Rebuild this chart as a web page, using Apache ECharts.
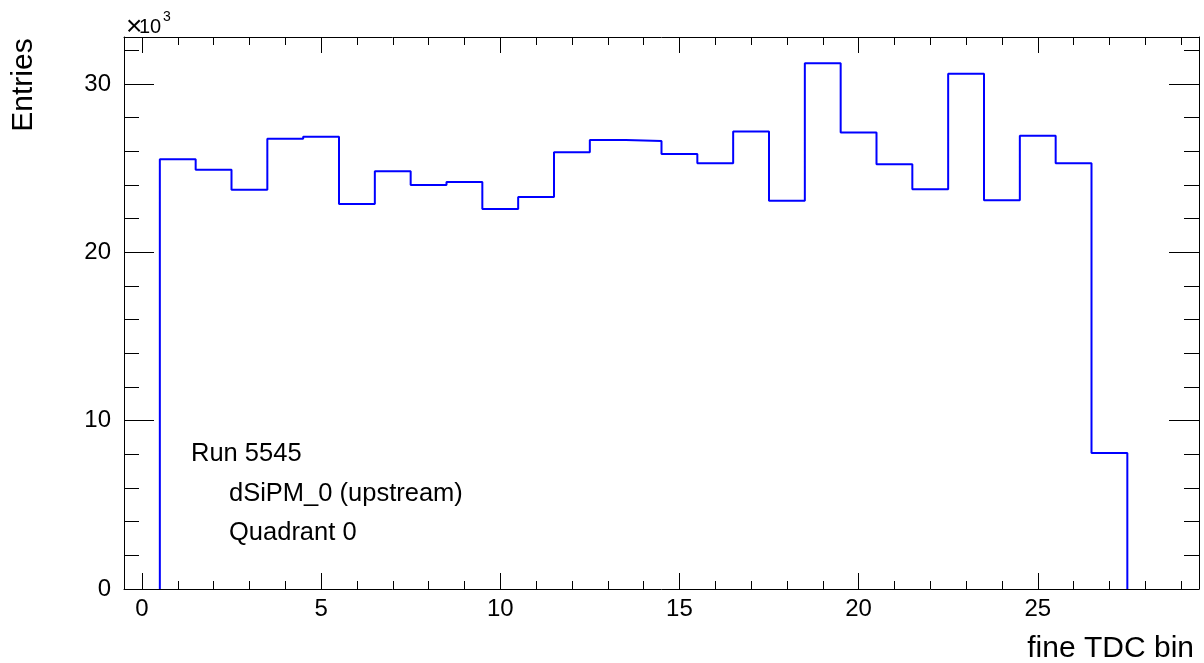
<!DOCTYPE html>
<html>
<head>
<meta charset="utf-8">
<script src="https://cdn.jsdelivr.net/npm/echarts@6/dist/echarts.min.js"></script>
<style>
  html, body { margin: 0; padding: 0; background: #fff; }
  #chart { width: 1204px; height: 663px; }
</style>
</head>
<body>
<div id="chart"></div>
<script>
// fine TDC bin centres (bin 0 is empty)
const binCenters = [1, 2, 3, 4, 5, 6, 7, 8, 9, 10, 11, 12, 13, 14, 15, 16, 17, 18, 19, 20, 21, 22, 23, 24, 25, 26, 27]
// entries per bin, in units of 10^3
const entries = [25.53, 24.91, 23.72, 26.75, 26.87, 22.87, 24.81, 24.0, 24.18, 22.57, 23.29, 25.94, 26.67, 26.61,
  25.84, 25.29, 27.17, 23.06, 31.23, 27.11, 25.23, 23.74, 30.61, 23.09, 26.93, 25.29, 8.08]
const binWidth = 1

const xMajorTicks = [0, 5, 10, 15, 20, 25]
const xMinorTicks = [0, 1, 2, 3, 4, 5, 6, 7, 8, 9, 10, 11, 12, 13, 14, 15, 16, 17, 18, 19, 20, 21, 22, 23, 24, 25, 26, 27, 28, 29]
const yMajorTicks = [0, 10, 20, 30]
const yMinorTicks = [0, 2, 4, 6, 8, 10, 12, 14, 16, 18, 20, 22, 24, 26, 28, 30, 32]

const xMin = -0.5
const xMax = 29.5
const yMax = 32.79

const FONT = 'Liberation Sans'

// histogram outline as step points at the bin edges
let steps = [[binCenters[0] - binWidth / 2, 0]]
for (let i = 0; i < binCenters.length; i++) {
  steps.push([binCenters[i] - binWidth / 2, entries[i]])
}
steps.push([binCenters[binCenters.length - 1] + binWidth / 2, 0])

function xAxisOf (position, ticks, len, showLine, showLabels) {
  return {
    type: 'value',
    position: position,
    min: xMin,
    max: xMax,
    axisLine: { show: showLine, onZero: false, lineStyle: { color: '#000', width: 1 } },
    axisTick: { show: true, inside: true, length: len, customValues: ticks, lineStyle: { color: '#000', width: 1 } },
    axisLabel: showLabels
      ? { show: true, customValues: ticks, color: '#000', fontFamily: FONT, fontSize: 24, margin: 8 }
      : { show: false },
    splitLine: { show: false }
  }
}

function yAxisOf (position, ticks, len, showLine, showLabels) {
  return {
    type: 'value',
    position: position,
    min: 0,
    max: yMax,
    axisLine: { show: showLine, onZero: false, lineStyle: { color: '#000', width: 1 } },
    axisTick: { show: true, inside: true, length: len, customValues: ticks, lineStyle: { color: '#000', width: 1 } },
    axisLabel: showLabels
      ? { show: true, customValues: ticks, color: '#000', fontFamily: FONT, fontSize: 24, margin: 13 }
      : { show: false },
    splitLine: { show: false }
  }
}

function label (text, x, y, size, align) {
  return {
    type: 'text',
    x: x,
    y: y,
    style: { text: text, font: size + 'px "Liberation Sans"', fill: '#000', align: align || 'left', verticalAlign: 'middle' }
  }
}

let chart = echarts.init(document.getElementById('chart'), null, { renderer: 'canvas' })
let option = {
  animation: false,
  backgroundColor: '#fff',
  grid: { left: 124, right: 5, top: 37, bottom: 74, containLabel: false },
  xAxis: [
    xAxisOf('bottom', xMajorTicks, 16, true, true),
    xAxisOf('bottom', xMinorTicks, 8, false, false),
    xAxisOf('top', xMajorTicks, 16, true, false),
    xAxisOf('top', xMinorTicks, 8, false, false)
  ],
  yAxis: [
    yAxisOf('left', yMajorTicks, 30, true, true),
    yAxisOf('left', yMinorTicks, 15, false, false),
    yAxisOf('right', yMajorTicks, 30, true, false),
    yAxisOf('right', yMinorTicks, 15, false, false)
  ],
  series: [
    {
      type: 'line',
      xAxisIndex: 0,
      yAxisIndex: 0,
      step: 'end',
      symbol: 'none',
      data: steps,
      lineStyle: { color: '#0000ff', width: 2 },
      z: 5
    }
  ],
  graphic: [
    {
      type: 'text',
      x: 24,
      y: 85,
      rotation: Math.PI / 2,
      style: { text: 'Entries', font: '30px "Liberation Sans"', fill: '#000', align: 'center', verticalAlign: 'middle' }
    },
    label('fine TDC bin', 1194, 649, 30, 'right'),
    label('×', 126, 27, 28),
    label('10', 139, 27, 20),
    label('3', 163, 17, 14),
    label('Run 5545', 191, 454, 25.5),
    label('dSiPM_0 (upstream)', 229, 494, 25.5),
    label('Quadrant 0', 229, 533, 25.5)
  ]
}
chart.setOption(option)
</script>
</body>
</html>
